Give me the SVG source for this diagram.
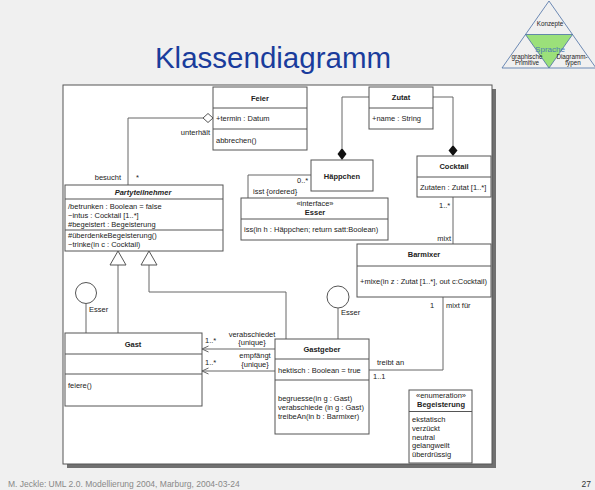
<svg xmlns="http://www.w3.org/2000/svg" width="595" height="490" viewBox="0 0 595 490">
<style>
text{font-family:"Liberation Sans",Arial,sans-serif;font-size:7.5px;fill:#222}
.b{font-weight:bold}
.c{text-anchor:middle}
.e{text-anchor:end}
.box{fill:#fff;stroke:#555;stroke-width:1}
.ln{fill:none;stroke:#666;stroke-width:1}
.dv{stroke:#555;stroke-width:1}
.lg{font-size:6.3px}
</style>
<rect width="595" height="490" fill="#f0f0f0"/>
<text x="273" y="67.5" class="c" style="font-size:29.5px;fill:#1a3c9c">Klassendiagramm</text>
<g id="logo">
<polygon points="549,1 502,68 596,68" fill="none" stroke="#4a6fa5" stroke-width="0.8"/>
<polygon points="525.5,34.5 572.5,34.5 549,68" fill="#9be07a" stroke="#4a6fa5" stroke-width="0.8"/>
<text x="550" y="26" class="c lg">Konzepte</text>
<text x="550" y="51.5" class="c" style="font-size:8px;fill:#4a7ab5">Sprache</text>
<text x="527" y="58.5" class="c lg">graphische</text>
<text x="527" y="64.5" class="c lg">Primitive</text>
<text x="572" y="58.5" class="c lg">Diagramm-</text>
<text x="573" y="64.5" class="c lg">typen</text>
</g>
<rect x="67" y="89" width="429" height="379" fill="#707070"/>
<rect x="63" y="85" width="429" height="379" fill="#fff" stroke="#555"/>
<g id="connectors">
<path class="ln" d="M203,118 H128 V185"/>
<polygon points="203,118 208,113.5 213,118 208,122.5" fill="#fff" stroke="#555"/>
<path class="ln" d="M118,265 V333"/>
<polygon points="118,251 110,265 126,265" fill="#fff" stroke="#555"/>
<path class="ln" d="M149,265 V292 H286 V339"/>
<polygon points="149,251 141,265 157,265" fill="#fff" stroke="#555"/>
<circle cx="86" cy="293" r="10.5" fill="#fff" stroke="#555"/>
<path class="ln" d="M86,303.5 V333"/>
<circle cx="338" cy="297" r="11" fill="#fff" stroke="#555"/>
<path class="ln" d="M338,308 V339"/>
<path class="ln" d="M275,349 H202 M208.5,346 L202,349 L208.5,352"/>
<path class="ln" d="M275,371 H202 M208.5,368 L202,371 L208.5,374"/>
<path class="ln" d="M443,297 V370 H369"/>
<path class="ln" d="M453,197 V244"/>
<path class="ln" d="M369,97 H342 V148"/>
<polygon points="342,148 346.5,154 342,160 337.5,154" fill="#111"/>
<path class="ln" d="M433,97 H453 V145"/>
<polygon points="453,145 457.5,150.5 453,156 448.5,150.5" fill="#111"/>
<path class="ln" d="M248,198 V175 H311"/>
<text x="210" y="134.5" class="e">unterhält</text>
<text x="121" y="179.5" class="e">besucht</text>
<text x="136" y="179.5">*</text>
<text x="89" y="311.5">Esser</text>
<text x="341" y="314.5">Esser</text>
<text x="205" y="343">1..*</text>
<text x="205" y="365">1..*</text>
<text x="252" y="336.5" class="c">verabschiedet</text>
<text x="252" y="345" class="c">{unique}</text>
<text x="255" y="358" class="c">empfängt</text>
<text x="255" y="367" class="c">{unique}</text>
<text x="430" y="307.5">1</text>
<text x="446" y="307.5">mixt für</text>
<text x="377" y="365">treibt an</text>
<text x="373" y="379">1..1</text>
<text x="439" y="207.5">1..*</text>
<text x="451" y="240.5" class="e">mixt</text>
<text x="297" y="182.5">0..*</text>
<text x="253" y="194">isst {ordered}</text>
</g>
<g id="Feier">
<rect class="box" x="213" y="87" width="94" height="63"/>
<line class="dv" x1="213" y1="108" x2="307" y2="108"/>
<line class="dv" x1="213" y1="129" x2="307" y2="129"/>
<text x="260" y="100.5" class="b c">Feier</text>
<text x="216" y="120.5">+termin : Datum</text>
<text x="216" y="143">abbrechen()</text>
</g>
<g id="Partyteilnehmer">
<rect class="box" x="65" y="185" width="158" height="66"/>
<line class="dv" x1="65" y1="199" x2="223" y2="199"/>
<line class="dv" x1="65" y1="230" x2="223" y2="230"/>
<text x="143" y="195" class="b c" font-style="italic">Partyteilnehmer</text>
<text x="68" y="209">/betrunken : Boolean = false</text>
<text x="68" y="218">~intus : Cocktail [1..*]</text>
<text x="68" y="227">#begeistert : Begeisterung</text>
<text x="68" y="238">#überdenkeBegeisterung()</text>
<text x="68" y="247">~trinke(in c : Cocktail)</text>
</g>
<g id="Gast">
<rect class="box" x="65" y="333" width="137" height="73"/>
<line class="dv" x1="65" y1="354" x2="202" y2="354"/>
<line class="dv" x1="65" y1="374" x2="202" y2="374"/>
<text x="133" y="347" class="b c">Gast</text>
<text x="68" y="388">feiere()</text>
</g>
<g id="Gastgeber">
<rect class="box" x="275" y="339" width="94" height="95"/>
<line class="dv" x1="275" y1="359" x2="369" y2="359"/>
<line class="dv" x1="275" y1="380" x2="369" y2="380"/>
<text x="322" y="352" class="b c">Gastgeber</text>
<text x="278" y="373">hektisch : Boolean = true</text>
<text x="278" y="401">begruesse(in g : Gast)</text>
<text x="278" y="409.5">verabschiede (in g : Gast)</text>
<text x="278" y="418.5">treibeAn(in b : Barmixer)</text>
</g>
<g id="Barmixer">
<rect class="box" x="357" y="244" width="134" height="53"/>
<line class="dv" x1="357" y1="266" x2="491" y2="266"/>
<text x="424" y="257" class="b c">Barmixer</text>
<text x="360" y="283.5">+mixe(in z : Zutat [1..*], out c:Cocktail)</text>
</g>
<g id="Cocktail">
<rect class="box" x="417" y="156" width="74" height="41"/>
<line class="dv" x1="417" y1="177" x2="491" y2="177"/>
<text x="454" y="169" class="b c">Cocktail</text>
<text x="420" y="190">Zutaten : Zutat [1..*]</text>
</g>
<g id="Zutat">
<rect class="box" x="369" y="87" width="64" height="42"/>
<line class="dv" x1="369" y1="108" x2="433" y2="108"/>
<text x="401" y="100" class="b c">Zutat</text>
<text x="372" y="120.5">+name : String</text>
</g>
<g id="Haeppchen">
<rect class="box" x="311" y="160" width="62" height="31"/>
<text x="342" y="179" class="b c">Häppchen</text>
</g>
<g id="Esser">
<rect class="box" x="241" y="198" width="147" height="42"/>
<line class="dv" x1="241" y1="219" x2="388" y2="219"/>
<text x="315" y="206" class="c">«interface»</text>
<text x="315" y="214.5" class="b c">Esser</text>
<text x="244" y="232">iss(in h : Häppchen; return satt:Boolean)</text>
</g>
<g id="Begeisterung">
<rect class="box" x="409" y="390" width="63" height="73"/>
<line class="dv" x1="409" y1="411.5" x2="472" y2="411.5"/>
<text x="441" y="398" class="c">«enumeration»</text>
<text x="441" y="407" class="b c">Begeisterung</text>
<text x="412" y="422">ekstatisch</text>
<text x="412" y="431">verzückt</text>
<text x="412" y="439.5">neutral</text>
<text x="412" y="448">gelangweilt</text>
<text x="412" y="457">überdrüssig</text>
</g>
<text x="8" y="487" style="font-size:8.5px;fill:#888">M. Jeckle: UML 2.0. Modellierung 2004, Marburg, 2004-03-24</text>
<text x="591" y="487" class="e" style="font-size:8.5px;fill:#333">27</text>
</svg>
